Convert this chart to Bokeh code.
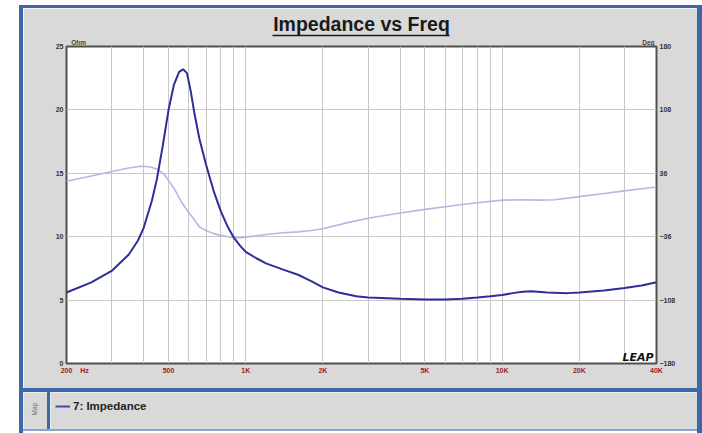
from bokeh.plotting import figure
from bokeh.models import (Range1d, LinearAxis, LogAxis, FixedTicker, Label, Spacer,
                          Legend, LegendItem)
from bokeh.layouts import row, column
from bokeh.embed import file_html
from bokeh.resources import INLINE

# ---- data ----
imp_freq = [200, 250, 300, 350, 380, 400, 430, 450, 475, 500, 525, 550, 570, 590, 610,
            630, 660, 700, 750, 800, 850, 900, 950, 1000, 1100, 1200, 1400, 1600, 1800,
            2000, 2300, 2700, 3000, 4000, 5000, 6000, 7000, 8000, 9000, 10000, 11000,
            12000, 13000, 15000, 18000, 20000, 25000, 30000, 35000, 40000]
imp_ohm = [5.6, 6.4, 7.3, 8.6, 9.7, 10.7, 12.8, 14.5, 17.2, 20.0, 22.0, 23.0, 23.2, 22.9, 21.5,
           19.8, 17.7, 15.7, 13.6, 12.0, 10.8, 9.9, 9.3, 8.8, 8.3, 7.9, 7.4, 7.0, 6.5,
           6.0, 5.6, 5.3, 5.2, 5.1, 5.05, 5.05, 5.1, 5.2, 5.3, 5.4, 5.55,
           5.65, 5.7, 5.6, 5.55, 5.6, 5.75, 5.95, 6.15, 6.4]

ph_freq = [200, 250, 300, 350, 390, 420, 450, 480, 500, 530, 560, 590, 620, 660, 700, 750,
           800, 850, 900, 950, 1000, 1100, 1200, 1400, 1600, 1800, 2000, 2500, 3000, 4000,
           5000, 6000, 7000, 8000, 10000, 12000, 14000, 16000, 20000, 25000, 30000, 35000, 40000]
ph_deg = [27, 33, 38, 42, 44, 43.5, 41, 35, 28, 17, 4, -6, -14, -25, -29, -32.5,
          -34.5, -36, -37, -37, -36.5, -35, -33.5, -31.5, -30.5, -29, -27, -20, -15, -9,
          -5, -2, 0.5, 2.5, 5.5, 6, 5.5, 6, 9.5, 13, 16, 18.5, 20.5]

x_label_ticks = [200, 235, 500, 1000, 2000, 5000, 10000, 20000, 40000]
x_label_text = ["200", "Hz", "500", "1K", "2K", "5K", "10K", "20K", "40K"]
x_grid_ticks = [300, 400, 500, 600, 700, 800, 900, 1000, 2000, 3000, 4000, 5000,
                6000, 7000, 8000, 9000, 10000, 20000, 30000]
ohm_ticks = [0, 5, 10, 15, 20, 25]
deg_ticks = [-180, -108, -36, 36, 108, 180]
unit_ticks = [223, 37200]
unit_text = ["Ohm", "Deg"]
title_text = "Impedance vs Freq"
legend_text = "7: Impedance"

PANEL = "#d9d9d9"
BLUE = "#3f67a8"
IMP_COLOR = "#2d2d9c"
PH_COLOR = "#b9b5e3"

# ---- main chart: page x 23..697, y 8..388 ----
p = figure(width=674, height=380, x_axis_type="log", x_range=Range1d(200, 40000),
           y_range=Range1d(0, 25), output_backend="svg", toolbar_location=None,
           min_border_left=43, min_border_right=41, min_border_top=38, min_border_bottom=25)
p.background_fill_color = "white"
p.border_fill_color = PANEL
p.outline_line_color = "#505050"
p.outline_line_width = 2

p.title.text = title_text
p.title.align = "center"
p.title.text_font = "Liberation Sans"
p.title.text_font_size = "19.5px"
p.title.text_font_style = "bold"
p.title.text_color = "#1a1a1a"
p.title.standoff = 1

p.extra_y_ranges = {"deg": Range1d(-180, 180)}


def plain_axis(ax, size="7px", color="#333333", style="normal", standoff=3):
    ax.axis_line_color = None
    ax.major_tick_line_color = None
    ax.minor_tick_line_color = None
    ax.major_tick_out = 0
    ax.major_tick_in = 0
    ax.minor_tick_out = 0
    ax.minor_tick_in = 0
    ax.major_label_text_font = "Liberation Sans"
    ax.major_label_text_font_size = size
    ax.major_label_text_color = color
    ax.major_label_text_font_style = style
    ax.major_label_standoff = standoff


xa = p.xaxis[0]
xa.ticker = FixedTicker(ticks=x_label_ticks)
xa.major_label_overrides = {t: s for t, s in zip(x_label_ticks, x_label_text)}
plain_axis(xa, color="#a11b1b", style="bold", standoff=3)

ya = p.yaxis[0]
ya.ticker = FixedTicker(ticks=ohm_ticks)
plain_axis(ya, color="#333333", style="bold", standoff=3)

rax = LinearAxis(y_range_name="deg", ticker=FixedTicker(ticks=deg_ticks))
plain_axis(rax, color="#333333", style="bold", standoff=3)
p.add_layout(rax, "right")

# unit captions above the frame (Ohm / Deg)
uax = LogAxis(ticker=FixedTicker(ticks=unit_ticks))
uax.major_label_overrides = {t: s for t, s in zip(unit_ticks, unit_text)}
plain_axis(uax, size="6.5px", color="#444444", style="bold", standoff=1)
p.add_layout(uax, "above")

# title underline
lax = LogAxis(ticker=FixedTicker(ticks=[]), bounds=(1272, 6236))
lax.axis_line_color = "#1a1a1a"
lax.axis_line_width = 1.7
lax.major_tick_line_color = None
lax.minor_tick_line_color = None
lax.major_tick_out = 0
lax.minor_tick_out = 0
lax.major_label_standoff = 0
p.add_layout(lax, "above")

p.xgrid.ticker = FixedTicker(ticks=x_grid_ticks)
p.xgrid.grid_line_color = "#c8c8c8"
p.ygrid.grid_line_color = "#c8c8c8"

p.line(ph_freq, ph_deg, y_range_name="deg", line_color=PH_COLOR, line_width=1.6)
p.line(imp_freq, imp_ohm, line_color=IMP_COLOR, line_width=2)

p.add_layout(Label(x=630, y=349, x_units="canvas", y_units="canvas", text="LEAP",
                   text_font="DejaVu Sans", text_font_size="11px",
                   text_font_style="bold italic", text_color="#111111",
                   text_align="right", text_baseline="middle"))

# ---- legend panel: page y 392..429 ----
map_fig = figure(width=24, height=37, output_backend="svg", toolbar_location=None,
                 x_axis_location=None, y_axis_location=None, min_border=0,
                 x_range=Range1d(0, 1), y_range=Range1d(0, 1))
map_fig.background_fill_color = PANEL
map_fig.border_fill_color = PANEL
map_fig.outline_line_color = None
map_fig.grid.visible = False
map_fig.add_layout(Label(x=0.45, y=0.55, text="Map", text_font="Liberation Sans",
                         text_font_size="6.5px", text_color="#707070", angle=1.5708,
                         text_align="center", text_baseline="middle"))

leg_fig = figure(width=647, height=37, output_backend="svg", toolbar_location=None,
                 x_axis_location=None, y_axis_location=None, min_border=0,
                 x_range=Range1d(0, 1), y_range=Range1d(0, 1))
leg_fig.background_fill_color = PANEL
leg_fig.border_fill_color = PANEL
leg_fig.outline_line_color = None
leg_fig.grid.visible = False
leg_r = leg_fig.line(imp_freq, imp_ohm, line_color="#4646b2", line_width=2)
legend = Legend(items=[LegendItem(label=legend_text, renderers=[leg_r])],
                location=(5, 17), margin=0, padding=0, spacing=0,
                glyph_width=15, glyph_height=12, label_height=12, label_standoff=3,
                label_text_font="Liberation Sans", label_text_font_size="11.5px",
                label_text_font_style="bold", label_text_color="#222222",
                background_fill_alpha=0, border_line_color=None)
leg_fig.add_layout(legend)


def bar(w, h, color=None):
    styles = {"background-color": color} if color else {}
    return Spacer(width=w, height=h, styles=styles)


inner = column(
    bar(674, 3, BLUE),
    p,
    bar(674, 4, BLUE),
    row(map_fig, bar(3, 37, BLUE), leg_fig, spacing=0),
    bar(674, 2, "#8aa4cf"),
    bar(674, 2),
    spacing=0,
)
root = column(
    bar(702, 5),
    row(bar(19, 428), bar(4, 428, BLUE), inner, bar(5, 428, BLUE), spacing=0),
    spacing=0,
)

open("out.html", "w").write(file_html(root, INLINE))
